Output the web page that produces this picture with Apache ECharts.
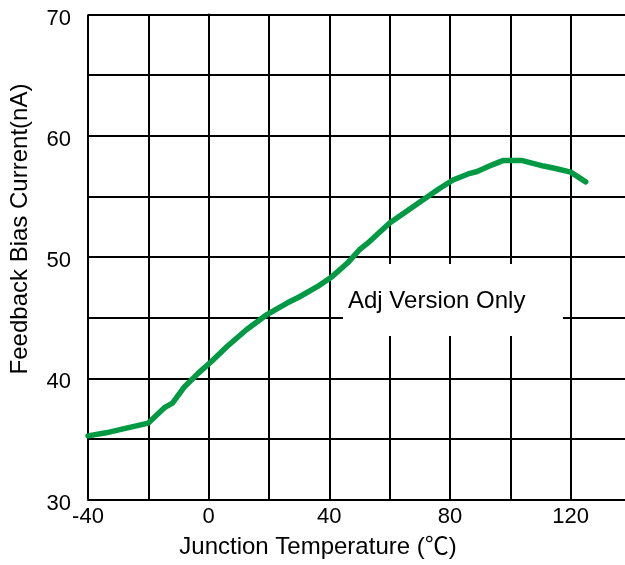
<!DOCTYPE html>
<html>
<head>
<meta charset="utf-8">
<script src="https://cdn.jsdelivr.net/npm/echarts@6/dist/echarts.min.js"></script>
<style>
html,body{margin:0;padding:0;background:#fff;}
#chart{width:625px;height:565px;}
</style>
</head>
<body>
<div id="chart"></div>
<script>
// Junction temperature (°C)
const temps = [-40, -34, -28, -20, -14.5, -12, -8, -3.5, 1, 6, 12.5, 19, 26, 30, 36, 41, 46, 50, 52.5, 60, 65.5, 71, 76.5, 81, 86, 89, 94, 97.5, 104, 111, 115, 120, 125];
// Feedback bias current (nA)
const biasCurrent = [35.25, 35.5, 35.85, 36.3, 37.6, 37.95, 39.3, 40.4, 41.4, 42.6, 44.0, 45.2, 46.2, 46.7, 47.55, 48.4, 49.5, 50.6, 51.1, 52.8, 53.75, 54.7, 55.65, 56.35, 56.85, 57.05, 57.6, 57.95, 57.95, 57.5, 57.3, 57.0, 56.2];
const xTickLabels = [-40, 0, 40, 80, 120];
const yTickLabels = [30, 40, 50, 60, 70];
const annotationText = 'Adj Version Only';

const font = '"Liberation Sans", Arial, "Noto Sans CJK SC", sans-serif';
const chart = echarts.init(document.getElementById('chart'));
chart.setOption({
  animation: false,
  backgroundColor: '#fff',
  grid: { left: 88, top: 14.5, width: 543, height: 485, outerBoundsMode: 'none', containLabel: false },
  xAxis: {
    type: 'value', min: -40, max: 140, interval: 20,
    name: 'Junction Temperature (℃)',
    nameLocation: 'middle', nameGap: 36,
    nameTextStyle: { fontFamily: font, fontSize: 24, color: '#000', padding: [0, 83, 0, 0] },
    axisLine: { show: true, lineStyle: { color: '#000', width: 2 } },
    axisTick: { show: false },
    axisLabel: {
      fontFamily: font, fontSize: 22, color: '#000', margin: 6, showMaxLabel: true,
      formatter: v => xTickLabels.includes(v) ? String(v) : ''
    },
    splitLine: { show: true, lineStyle: { color: '#000', width: 2 } }
  },
  yAxis: {
    type: 'value', min: 30, max: 70, interval: 5,
    name: 'Feedback Bias Current(nA)',
    nameLocation: 'middle', nameGap: 56,
    nameTextStyle: { fontFamily: font, fontSize: 24, color: '#000', padding: [0, 0, 0, 56] },
    axisLine: { show: true, lineStyle: { color: '#000', width: 2 } },
    axisTick: { show: false },
    axisLabel: {
      fontFamily: font, fontSize: 22, color: '#000', margin: 17,
      verticalAlign: 'top', lineHeight: 8,
      formatter: v => yTickLabels.includes(v) ? String(v) : ''
    },
    splitLine: { show: true, lineStyle: { color: '#000', width: 2 } }
  },
  graphic: {
    elements: [
      { type: 'rect', z: 1, shape: { x: 343, y: 264, width: 220, height: 72 }, style: { fill: '#fff' } },
      { type: 'text', z: 1, x: 348, y: 301, style: { text: annotationText, font: '24px ' + font, fill: '#000', verticalAlign: 'middle', align: 'left' } }
    ]
  },
  series: [{
    type: 'line',
    data: temps.map((t, i) => [t, biasCurrent[i]]),
    showSymbol: false,
    smooth: false,
    lineStyle: { color: '#009944', width: 5.5, cap: 'round', join: 'round' },
    z: 3
  }]
});
</script>
</body>
</html>
